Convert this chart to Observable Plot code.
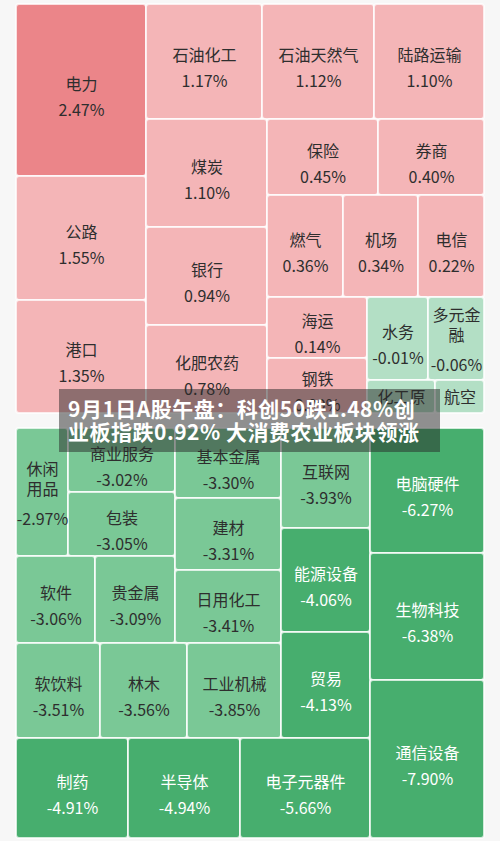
<!DOCTYPE html>
<html>
<head>
<meta charset="utf-8">
<script src="https://cdn.jsdelivr.net/npm/d3@7"></script>
<script src="https://cdn.jsdelivr.net/npm/@observablehq/plot@0.6"></script>
<style>
html, body { margin: 0; padding: 0; background: #f7f7f7; }
#wrap { position: relative; width: 500px; height: 841px; overflow: hidden; }
#banner {
  position: absolute; left: 59px; top: 389px; width: 381px; height: 63px;
  background: rgba(40,40,40,0.5); color: #fff;
  font: bold 21px/23px "Noto Sans CJK SC", sans-serif; letter-spacing: 0.5px;
  padding: 8px 0 0 9px; box-sizing: border-box; white-space: nowrap;
}
</style>
</head>
<body>
<div id="wrap">
  <div id="chart"></div>
  <div id="banner">9月1日A股午盘：科创50跌1.48%创<br>业板指跌0.92% 大消费农业板块领涨</div>
</div>
<script>
// Sector names, change (%) and cell weights (relative tile size)
const sectors = [
  "电力","公路","港口","石油化工","石油天然气","陆路运输","煤炭","银行","化肥农药",
  "保险","券商","燃气","机场","电信","海运","钢铁","水务","多元金融","化工原料","航空",
  "电脑硬件","生物科技","通信设备","制药","半导体","电子元器件","互联网","能源设备","贸易",
  "软饮料","林木","工业机械","基本金属","建材","日用化工","软件","贵金属","休闲用品","商业服务","包装"
];
const changes = [
  2.47, 1.55, 1.35, 1.17, 1.12, 1.10, 1.10, 0.94, 0.78,
  0.45, 0.40, 0.36, 0.34, 0.22, 0.14, 0.09, -0.01, -0.06, -0.12, -0.19,
  -6.27, -6.38, -7.90, -4.91, -4.94, -5.66, -3.93, -4.06, -4.13,
  -3.51, -3.56, -3.85, -3.30, -3.31, -3.41, -3.06, -3.09, -2.97, -3.02, -3.05
];
const weights = [
  22360, 16120, 14690, 13340, 12880, 12650, 13068, 11858, 10648,
  8436, 8056, 7752, 7650, 6732, 6100, 5500, 5063, 4648, 2244, 1617,
  14250, 14478, 18012, 11200, 11200, 13000, 8900, 9256, 9434,
  7980, 8265, 8930, 7420, 7632, 7738, 6873, 6960, 6656, 6848, 6848
];

// Nesting of the tiles: "h" = side by side, "v" = stacked
const topBlock = ["h",
  ["v", "电力", "公路", "港口"],
  ["v",
    ["h", "石油化工", "石油天然气", "陆路运输"],
    ["h",
      ["v", "煤炭", "银行", "化肥农药"],
      ["v",
        ["h", "保险", "券商"],
        ["h", "燃气", "机场", "电信"],
        ["h",
          ["v", "海运", "钢铁"],
          ["v", ["h", "水务", "多元金融"], ["h", "化工原料", "航空"]]
        ]
      ]
    ]
  ]
];
const ulBlock = ["v", ["h", "休闲用品", ["v", "商业服务", "包装"]], ["h", "软件", "贵金属"]];
const uBlock = ["h", ulBlock, ["v", "基本金属", "建材", "日用化工"]];
const ltlBlock = ["v", uBlock, ["h", "软饮料", "林木", "工业机械"]];
const ltBlock = ["h", ltlBlock, ["v", "互联网", "能源设备", "贸易"]];
const lBlock = ["v", ltBlock, ["h", "制药", "半导体", "电子元器件"]];
const bottomBlock = ["h", lBlock, ["v", "电脑硬件", "生物科技", "通信设备"]];
const layout = ["v", topBlock, bottomBlock];

function build(node) {
  if (typeof node === "string") {
    const i = sectors.indexOf(node);
    return { name: node, change: changes[i], weight: weights[i] };
  }
  const [dir, ...kids] = node;
  return { dir, children: kids.map(build) };
}

const W = 468, H = 834;
const root = d3.hierarchy(build(layout)).sum(d => d.weight || 0);
d3.treemap()
  .size([W, H])
  .paddingInner(n => n.depth === 0 ? 15 : 0)
  .tile((node, x0, y0, x1, y1) =>
    (node.data.dir === "h" ? d3.treemapDice : d3.treemapSlice)(node, x0, y0, x1, y1))
  (root);

const leaves = root.leaves();
const FS = 16;
const lines = [];
for (const c of leaves) {
  const w = c.x1 - c.x0;
  const cx = (c.x0 + c.x1) / 2, cy = (c.y0 + c.y1) / 2;
  const per = Math.max(1, Math.floor((w - 6) / FS));
  const chars = Array.from(c.data.name);
  const nameLines = [];
  for (let k = 0; k < chars.length; k += per) nameLines.push(chars.slice(k, k + per).join(""));
  const n = nameLines.length;
  let y = Math.max(cy - 6 - (n - 1) * 17, c.y0 + 17);
  const dark = c.data.change < -4;
  const push = (text, yy) => { if (yy + 8 <= c.y1 + 1) lines.push({ x: cx, y: yy, text, dark }); };
  nameLines.forEach((t, k) => push(t, y + k * 20));
  const vy = y + (n - 1) * 20 + 26 + (n - 1) * 4;
  push(c.data.change.toFixed(2) + "%", vy);
}

const chart = Plot.plot({
  width: 500, height: 841,
  marginLeft: 16, marginRight: 16, marginTop: 4, marginBottom: 3,
  x: { domain: [0, W], axis: null },
  y: { domain: [0, H], range: [4, 838], axis: null },
  color: { type: "threshold", domain: [-4, -1, 0, 2],
           range: ["#47ae6e", "#7ac896", "#b3dfc5", "#f4b5b7", "#eb8589"] },
  style: { background: "transparent", fontFamily: "'Noto Sans CJK SC', sans-serif" },
  marks: [
    Plot.rect(leaves, {
      x1: "x0", x2: "x1", y1: "y0", y2: "y1",
      fill: d => d.data.change,
      stroke: "#ffffff", strokeOpacity: 0.75, strokeWidth: 2, rx: 3
    }),
    Plot.text(lines.filter(d => !d.dark), { x: "x", y: "y", text: "text", fill: "#2e2e2e", fontSize: FS }),
    Plot.text(lines.filter(d => d.dark), { x: "x", y: "y", text: "text", fill: "#ffffff", fontSize: FS })
  ]
});
document.getElementById("chart").appendChild(chart);
</script>
</body>
</html>
